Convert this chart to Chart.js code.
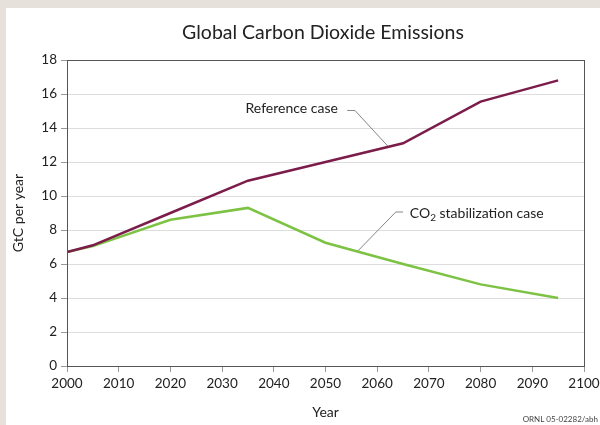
<!DOCTYPE html>
<html>
<head>
<meta charset="utf-8">
<script src="https://cdn.jsdelivr.net/npm/chart.js@4"></script>
<style>
  html, body { margin: 0; padding: 0; background: #e6e1db; }
  #wrap { position: relative; width: 600px; height: 425px; }
</style>
</head>
<body>
<div id="wrap"><canvas id="myChart" width="600" height="425"></canvas></div>
<script>
// valori (GtC per anno)
var years = [2000, 2005, 2020, 2035, 2050, 2065, 2080, 2095];
var referenceCase = [6.7, 7.1, 9.0, 10.9, 12.0, 13.1, 15.55, 16.8];
var stabilizationCase = [6.7, 7.05, 8.6, 9.3, 7.25, 6.0, 4.8, 4.0];
var xTicks = [2000, 2010, 2020, 2030, 2040, 2050, 2060, 2070, 2080, 2090, 2100];
var yTicks = [0, 2, 4, 6, 8, 10, 12, 14, 16, 18];

var FONT = 'Lato, "Open Sans", sans-serif';

function toPoints(values) {
  return years.map(function (y, i) { return { x: y, y: values[i] }; });
}

// sfondo, titolo, riquadro ed etichette delle curve
var decor = {
  id: 'decor',
  beforeDraw: function (chart) {
    var c = chart.ctx;
    c.save();
    c.fillStyle = '#e6e1db';
    c.fillRect(0, 0, chart.width, chart.height);
    c.fillStyle = '#ffffff';
    c.fillRect(6, 8, chart.width - 6, chart.height - 8);
    c.restore();
  },
  afterDraw: function (chart) {
    var c = chart.ctx;
    var a = chart.chartArea;
    var xs = chart.scales.x, ys = chart.scales.y;
    c.save();
    c.strokeStyle = '#555';
    c.lineWidth = 1;
    c.strokeRect(a.left + 0.5, a.top + 0.5, a.right - a.left, a.bottom - a.top);

    c.fillStyle = '#222';
    c.textAlign = 'center';
    c.textBaseline = 'middle';
    c.font = '19.5px ' + FONT;
    c.fillText('Global Carbon Dioxide Emissions', 323, 33);

    c.font = '8px ' + FONT;
    c.textAlign = 'right';
    c.fillStyle = '#444';
    c.fillText('ORNL 05-02282/abh', 598, 419);

    // linee di richiamo
    c.strokeStyle = '#666';
    c.lineWidth = 0.8;
    function leader(pts) {
      c.beginPath();
      pts.forEach(function (p, i) {
        var px = xs.getPixelForValue(p[0]), py = ys.getPixelForValue(p[1]);
        if (i === 0) c.moveTo(px, py); else c.lineTo(px, py);
      });
      c.stroke();
    }
    leader([[2054.2, 15.03], [2055.7, 15.03], [2062.1, 12.92]]);
    leader([[2065.0, 9.06], [2063.6, 9.06], [2056.3, 6.78]]);

    c.fillStyle = '#222';
    c.font = '14px ' + FONT;
    c.textAlign = 'right';
    c.fillText('Reference case', xs.getPixelForValue(2052.4), ys.getPixelForValue(15.15));

    c.textAlign = 'left';
    var tx = xs.getPixelForValue(2066.3), ty = ys.getPixelForValue(8.95);
    c.fillText('CO', tx, ty);
    var w = c.measureText('CO').width;
    c.font = '10px ' + FONT;
    c.fillText('2', tx + w, ty + 4);
    var w2 = c.measureText('2').width;
    c.font = '14px ' + FONT;
    c.fillText(' stabilization case', tx + w + w2, ty);
    c.restore();
  }
};

var ctx = document.getElementById('myChart').getContext('2d');
var myChart = new Chart(ctx, {
  type: 'line',
  data: {
    datasets: [
      {
        label: 'Reference case',
        data: toPoints(referenceCase),
        borderColor: '#7b1c4b',
        borderWidth: 2.5,
        pointRadius: 0,
        tension: 0
      },
      {
        label: 'CO2 stabilization case',
        data: toPoints(stabilizationCase),
        borderColor: '#7cc243',
        borderWidth: 2.5,
        pointRadius: 0,
        tension: 0
      }
    ]
  },
  options: {
    responsive: false,
    animation: false,
    layout: { padding: { top: 60, right: 0, left: 0, bottom: 0 } },
    plugins: { legend: { display: false }, tooltip: { enabled: false } },
    scales: {
      x: {
        type: 'linear',
        min: 2000,
        max: 2100,
        afterBuildTicks: function (s) { s.ticks = xTicks.map(function (v) { return { value: v }; }); },
        ticks: { color: '#222', font: { family: FONT, size: 13.5 }, padding: 4, maxRotation: 0, callback: function (v) { return String(v); } },
        grid: { drawOnChartArea: false, drawTicks: true, tickLength: 6, color: '#999' },
        border: { color: '#555' },
        title: { display: true, text: 'Year', color: '#222', font: { family: FONT, size: 14 }, padding: { top: 2 } },
        afterFit: function (s) { s.height = 59; s.paddingRight = 16; }
      },
      y: {
        min: 0,
        max: 18,
        afterBuildTicks: function (s) { s.ticks = yTicks.map(function (v) { return { value: v }; }); },
        ticks: { color: '#222', font: { family: FONT, size: 13.5 }, padding: 4 },
        grid: { color: '#dddddd', tickLength: 6, tickColor: '#999' },
        border: { color: '#555' },
        title: { display: true, text: 'GtC per year', color: '#222', font: { family: FONT, size: 14 }, padding: { top: 10, bottom: 2 } },
        afterFit: function (s) { s.width = 67; }
      }
    }
  },
  plugins: [decor]
});
</script>
</body>
</html>
